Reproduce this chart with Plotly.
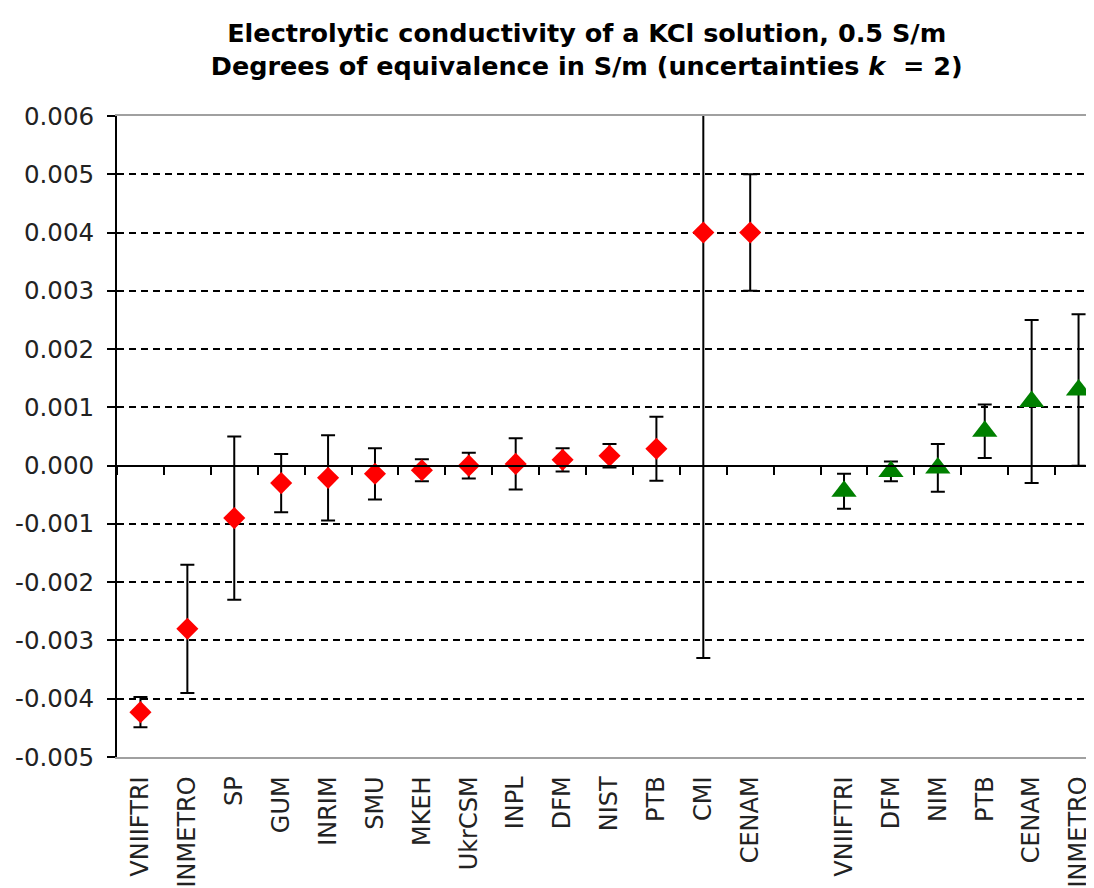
import numpy as np
import plotly.graph_objects as go

# ---- data ----
red_labels = ["VNIIFTRI", "INMETRO", "SP", "GUM", "INRIM", "SMU", "MKEH", "UkrCSM",
              "INPL", "DFM", "NIST", "PTB", "CMI", "CENAM"]
red_values = [-0.00423, -0.0028, -0.0009, -0.0003, -0.00021, -0.00014, -0.00008, 0.0,
              0.00003, 0.0001, 0.00017, 0.00029, 0.004, 0.004]
red_unc = [0.00026, 0.0011, 0.0014, 0.0005, 0.00073, 0.00044, 0.00019, 0.00022,
           0.00044, 0.0002, 0.0002, 0.00055, 0.0073, 0.001]

green_labels = ["VNIIFTRI", "DFM", "NIM", "PTB", "CENAM", "INMETRO"]
green_values = [-0.00044, -0.0001, -0.00004, 0.00059, 0.0011, 0.0013]
green_unc = [0.0003, 0.00017, 0.00041, 0.00046, 0.0014, 0.0013]

y_ticks = [-0.005, -0.004, -0.003, -0.002, -0.001, 0.0, 0.001, 0.002, 0.003, 0.004, 0.005, 0.006]

title_lines = ["Electrolytic conductivity of a KCl solution, 0.5 S/m",
               "Degrees of equivalence in S/m (uncertainties <i>k</i>&nbsp; = 2)"]

# ---- layout helpers ----
red_x = list(range(len(red_labels)))
green_x = [len(red_labels) + 1 + i for i in range(len(green_labels))]
n_slots = len(red_labels) + 1 + len(green_labels)
y_min, y_max = y_ticks[0], y_ticks[-1]

FONT = "DejaVu Sans"
W, H = 1094, 888
L, T, B = 109, 108, 139

fig = go.Figure()

fig.add_trace(go.Scatter(
    x=red_x, y=red_values, mode="markers",
    marker=dict(symbol="diamond", size=17, color="#FF0000", line=dict(width=0)),
    error_y=dict(type="data", array=red_unc, visible=True, color="black",
                 thickness=2, width=7),
    showlegend=False, cliponaxis=False,
))
fig.add_trace(go.Scatter(
    x=green_x, y=green_values, mode="markers",
    marker=dict(symbol="triangle-up", size=22, color="#008000", line=dict(width=0)),
    error_y=dict(type="data", array=green_unc, visible=True, color="black",
                 thickness=2, width=7),
    showlegend=False, cliponaxis=False,
))
# invisible trace for the zero-crossing category axis
fig.add_trace(go.Scatter(x=[0], y=[0], xaxis="x2", mode="markers",
                         marker=dict(opacity=0), showlegend=False, hoverinfo="skip"))

x_range = [-0.5, n_slots - 0.5]

fig.update_layout(
    width=W, height=H,
    margin=dict(l=L, r=0, t=T, b=B, pad=0),
    paper_bgcolor="white", plot_bgcolor="white",
    font=dict(family=FONT, color="#222222"),
    title=dict(
        text="<b>" + title_lines[0] + "<br>" + title_lines[1] + "</b>",
        x=0.529, xanchor="center", xref="container",
        y=1 - 34 / H, yanchor="top", yref="container",
        font=dict(family=FONT, size=25.5, color="black"),
    ),
    xaxis=dict(
        range=x_range,
        tickvals=red_x + green_x,
        ticktext=red_labels + green_labels,
        tickangle=-90,
        tickfont=dict(family=FONT, size=24, color="#222222"),
        ticks="", showgrid=False, zeroline=False,
        showline=True, linecolor="#A0A0A0", linewidth=1.5, mirror=True,
        ticklabelstandoff=8,
    ),
    xaxis2=dict(
        overlaying="x", matches="x", anchor="free",
        position=(0 - y_min) / (y_max - y_min),
        range=x_range,
        tickvals=list(np.arange(-0.5, n_slots, 1.0)),
        showticklabels=False, ticks="outside", ticklen=8, tickwidth=1.8,
        tickcolor="black", showline=True, linecolor="black", linewidth=2,
        showgrid=False, zeroline=False,
    ),
    yaxis=dict(
        range=[y_min, y_max],
        tickvals=y_ticks,
        ticktext=[f"{v:.3f}" for v in y_ticks],
        tickfont=dict(family=FONT, size=24.5, color="#222222"),
        ticks="outside", ticklen=8, tickwidth=1.8, tickcolor="black",
        showline=True, linecolor="black", linewidth=2,
        showgrid=True, gridcolor="black", gridwidth=1.5, griddash="7px,5px",
        zeroline=False, ticklabelstandoff=8,
    ),
)

fig.write_html("out.html")
